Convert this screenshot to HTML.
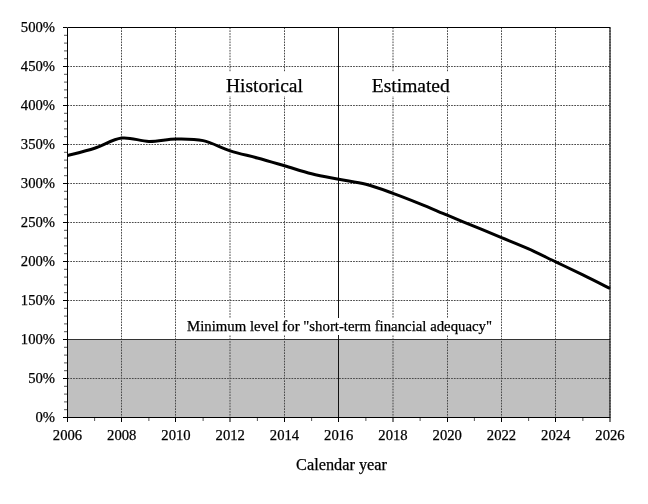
<!DOCTYPE html>
<html><head><meta charset="utf-8"><title>Trust fund ratio chart</title><style>
html,body{margin:0;padding:0;background:#fff;width:648px;height:504px;overflow:hidden}
svg{display:block;will-change:transform}
</style></head><body>
<svg width="648" height="504" viewBox="0 0 648 504">
<style>
.g{stroke:#4a4a4a;stroke-width:1;stroke-dasharray:1.7 1.1}
.t{stroke:#000;stroke-width:1}
.tm{stroke:#555;stroke-width:1}
text{font-family:"Liberation Serif","Times New Roman",serif;fill:#000;stroke:#000;stroke-width:0.25px}
.yl{font-size:14.67px;text-anchor:end}
.xl{font-size:14.67px;text-anchor:middle}
.lab{font-size:19.5px}
.ax{font-size:16.3px;text-anchor:middle}
.mn{font-size:14.8px}
</style>
<rect x="0" y="0" width="648" height="504" fill="#fff"/>
<rect x="67" y="339" width="543" height="78" fill="#c0c0c0"/>
<line x1="121.5" y1="27.5" x2="121.5" y2="417" class="g"/><line x1="175.5" y1="27.5" x2="175.5" y2="417" class="g"/><line x1="230.0" y1="27.5" x2="230.0" y2="417" class="g"/><line x1="284.5" y1="27.5" x2="284.5" y2="417" class="g"/><line x1="393.0" y1="27.5" x2="393.0" y2="417" class="g"/><line x1="447.5" y1="27.5" x2="447.5" y2="417" class="g"/><line x1="501.5" y1="27.5" x2="501.5" y2="417" class="g"/><line x1="555.5" y1="27.5" x2="555.5" y2="417" class="g"/><line x1="610.0" y1="27.5" x2="610.0" y2="417" class="g"/><line x1="67.5" y1="378.5" x2="610" y2="378.5" class="g"/><line x1="67.5" y1="339.5" x2="610" y2="339.5" class="g"/><line x1="67.5" y1="300.5" x2="610" y2="300.5" class="g"/><line x1="67.5" y1="261.5" x2="610" y2="261.5" class="g"/><line x1="67.5" y1="222.5" x2="610" y2="222.5" class="g"/><line x1="67.5" y1="183.5" x2="610" y2="183.5" class="g"/><line x1="67.5" y1="144.5" x2="610" y2="144.5" class="g"/><line x1="67.5" y1="105.5" x2="610" y2="105.5" class="g"/><line x1="67.5" y1="66.5" x2="610" y2="66.5" class="g"/>
<line x1="67" y1="339.5" x2="610" y2="339.5" stroke="#333" stroke-width="1"/>
<rect x="226" y="72" width="78" height="24" fill="#fff"/>
<rect x="371" y="72" width="80" height="24" fill="#fff"/>
<rect x="186" y="318" width="308" height="17" fill="#fff"/>
<line x1="338.5" y1="27" x2="338.5" y2="318" stroke="#111" stroke-width="1"/>
<line x1="338.5" y1="335" x2="338.5" y2="417" stroke="#111" stroke-width="1"/>
<path d="M67.50,155.60 C72.02,154.37 85.58,151.12 94.62,148.20 C103.67,145.28 112.71,139.23 121.75,138.10 C130.79,136.97 139.83,141.25 148.88,141.40 C157.92,141.55 166.96,139.13 176.00,139.00 C185.04,138.87 194.08,138.62 203.12,140.60 C212.17,142.58 221.21,148.00 230.25,150.90 C239.29,153.80 248.33,155.52 257.38,158.00 C266.42,160.48 275.46,163.17 284.50,165.80 C293.54,168.43 302.58,171.55 311.62,173.80 C320.67,176.05 329.71,177.55 338.75,179.30 C347.79,181.05 356.83,181.97 365.88,184.30 C374.92,186.63 383.96,190.05 393.00,193.30 C402.04,196.55 411.08,200.15 420.12,203.80 C429.17,207.45 438.21,211.43 447.25,215.20 C456.29,218.97 465.33,222.67 474.38,226.40 C483.42,230.13 492.46,233.85 501.50,237.60 C510.54,241.35 519.58,244.85 528.62,248.90 C537.67,252.95 546.71,257.57 555.75,261.90 C564.79,266.23 573.83,270.47 582.88,274.90 C591.92,279.33 605.48,286.23 610.00,288.50" fill="none" stroke="#000" stroke-width="3" stroke-linejoin="round"/>
<path d="M67.5,417.5 V27.5 H610" fill="none" stroke="#000" stroke-width="1"/>
<line x1="67" y1="417.5" x2="610.5" y2="417.5" stroke="#000" stroke-width="1"/>
<line x1="610" y1="27" x2="610" y2="418" stroke="#000" stroke-width="1"/>
<line x1="63" y1="417.50" x2="67" y2="417.50" class="t"/><line x1="64" y1="409.70" x2="67" y2="409.70" class="tm"/><line x1="64" y1="401.90" x2="67" y2="401.90" class="tm"/><line x1="64" y1="394.10" x2="67" y2="394.10" class="tm"/><line x1="64" y1="386.30" x2="67" y2="386.30" class="tm"/><line x1="63" y1="378.50" x2="67" y2="378.50" class="t"/><line x1="64" y1="370.70" x2="67" y2="370.70" class="tm"/><line x1="64" y1="362.90" x2="67" y2="362.90" class="tm"/><line x1="64" y1="355.10" x2="67" y2="355.10" class="tm"/><line x1="64" y1="347.30" x2="67" y2="347.30" class="tm"/><line x1="63" y1="339.50" x2="67" y2="339.50" class="t"/><line x1="64" y1="331.70" x2="67" y2="331.70" class="tm"/><line x1="64" y1="323.90" x2="67" y2="323.90" class="tm"/><line x1="64" y1="316.10" x2="67" y2="316.10" class="tm"/><line x1="64" y1="308.30" x2="67" y2="308.30" class="tm"/><line x1="63" y1="300.50" x2="67" y2="300.50" class="t"/><line x1="64" y1="292.70" x2="67" y2="292.70" class="tm"/><line x1="64" y1="284.90" x2="67" y2="284.90" class="tm"/><line x1="64" y1="277.10" x2="67" y2="277.10" class="tm"/><line x1="64" y1="269.30" x2="67" y2="269.30" class="tm"/><line x1="63" y1="261.50" x2="67" y2="261.50" class="t"/><line x1="64" y1="253.70" x2="67" y2="253.70" class="tm"/><line x1="64" y1="245.90" x2="67" y2="245.90" class="tm"/><line x1="64" y1="238.10" x2="67" y2="238.10" class="tm"/><line x1="64" y1="230.30" x2="67" y2="230.30" class="tm"/><line x1="63" y1="222.50" x2="67" y2="222.50" class="t"/><line x1="64" y1="214.70" x2="67" y2="214.70" class="tm"/><line x1="64" y1="206.90" x2="67" y2="206.90" class="tm"/><line x1="64" y1="199.10" x2="67" y2="199.10" class="tm"/><line x1="64" y1="191.30" x2="67" y2="191.30" class="tm"/><line x1="63" y1="183.50" x2="67" y2="183.50" class="t"/><line x1="64" y1="175.70" x2="67" y2="175.70" class="tm"/><line x1="64" y1="167.90" x2="67" y2="167.90" class="tm"/><line x1="64" y1="160.10" x2="67" y2="160.10" class="tm"/><line x1="64" y1="152.30" x2="67" y2="152.30" class="tm"/><line x1="63" y1="144.50" x2="67" y2="144.50" class="t"/><line x1="64" y1="136.70" x2="67" y2="136.70" class="tm"/><line x1="64" y1="128.90" x2="67" y2="128.90" class="tm"/><line x1="64" y1="121.10" x2="67" y2="121.10" class="tm"/><line x1="64" y1="113.30" x2="67" y2="113.30" class="tm"/><line x1="63" y1="105.50" x2="67" y2="105.50" class="t"/><line x1="64" y1="97.70" x2="67" y2="97.70" class="tm"/><line x1="64" y1="89.90" x2="67" y2="89.90" class="tm"/><line x1="64" y1="82.10" x2="67" y2="82.10" class="tm"/><line x1="64" y1="74.30" x2="67" y2="74.30" class="tm"/><line x1="63" y1="66.50" x2="67" y2="66.50" class="t"/><line x1="64" y1="58.70" x2="67" y2="58.70" class="tm"/><line x1="64" y1="50.90" x2="67" y2="50.90" class="tm"/><line x1="64" y1="43.10" x2="67" y2="43.10" class="tm"/><line x1="64" y1="35.30" x2="67" y2="35.30" class="tm"/><line x1="63" y1="27.50" x2="67" y2="27.50" class="t"/><line x1="67.50" y1="418" x2="67.50" y2="422" class="t"/><line x1="94.62" y1="418" x2="94.62" y2="421" class="tm"/><line x1="121.50" y1="418" x2="121.50" y2="422" class="t"/><line x1="148.88" y1="418" x2="148.88" y2="421" class="tm"/><line x1="175.50" y1="418" x2="175.50" y2="422" class="t"/><line x1="203.12" y1="418" x2="203.12" y2="421" class="tm"/><line x1="230.00" y1="418" x2="230.00" y2="422" class="t"/><line x1="257.38" y1="418" x2="257.38" y2="421" class="tm"/><line x1="284.50" y1="418" x2="284.50" y2="422" class="t"/><line x1="311.62" y1="418" x2="311.62" y2="421" class="tm"/><line x1="338.50" y1="418" x2="338.50" y2="422" class="t"/><line x1="365.88" y1="418" x2="365.88" y2="421" class="tm"/><line x1="393.00" y1="418" x2="393.00" y2="422" class="t"/><line x1="420.12" y1="418" x2="420.12" y2="421" class="tm"/><line x1="447.50" y1="418" x2="447.50" y2="422" class="t"/><line x1="474.38" y1="418" x2="474.38" y2="421" class="tm"/><line x1="501.50" y1="418" x2="501.50" y2="422" class="t"/><line x1="528.62" y1="418" x2="528.62" y2="421" class="tm"/><line x1="555.50" y1="418" x2="555.50" y2="422" class="t"/><line x1="582.88" y1="418" x2="582.88" y2="421" class="tm"/><line x1="610.00" y1="418" x2="610.00" y2="422" class="t"/>
<text x="55" y="422.4" class="yl">0%</text><text x="55" y="383.4" class="yl">50%</text><text x="55" y="344.4" class="yl">100%</text><text x="55" y="305.4" class="yl">150%</text><text x="55" y="266.4" class="yl">200%</text><text x="55" y="227.4" class="yl">250%</text><text x="55" y="188.4" class="yl">300%</text><text x="55" y="149.4" class="yl">350%</text><text x="55" y="110.4" class="yl">400%</text><text x="55" y="71.4" class="yl">450%</text><text x="55" y="32.4" class="yl">500%</text>
<text x="67.50" y="440" class="xl">2006</text><text x="121.75" y="440" class="xl">2008</text><text x="176.00" y="440" class="xl">2010</text><text x="230.25" y="440" class="xl">2012</text><text x="284.50" y="440" class="xl">2014</text><text x="338.75" y="440" class="xl">2016</text><text x="393.00" y="440" class="xl">2018</text><text x="447.25" y="440" class="xl">2020</text><text x="501.50" y="440" class="xl">2022</text><text x="555.75" y="440" class="xl">2024</text><text x="610.00" y="440" class="xl">2026</text>
<text x="226.0" y="91.6" class="lab">Historical</text>
<text x="371.8" y="91.6" class="lab">Estimated</text>
<text x="187" y="330.8" class="mn">Minimum level for "short-term financial adequacy"</text>
<text x="341.5" y="469.8" class="ax">Calendar year</text>
</svg>
</body></html>
